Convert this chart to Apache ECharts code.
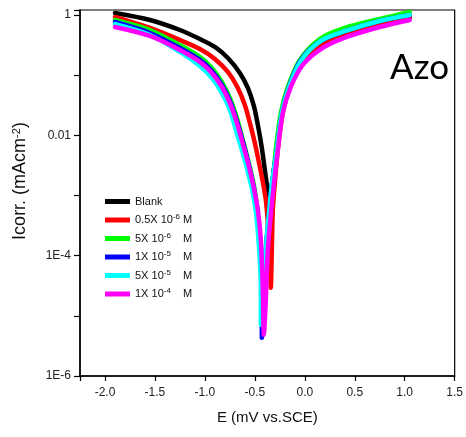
<!DOCTYPE html>
<html><head><meta charset="utf-8">
<script src="https://cdn.jsdelivr.net/npm/echarts@6/dist/echarts.min.js"></script>
<style>html,body{margin:0;padding:0;background:#fff}#c{width:466px;height:437px}</style>
</head><body><div id="c"></div>
<script>
// ---- data (E in V vs SCE, I in mA cm^-2) ----
const seriesNames = ['Blank', '0.5X 10-6 M', '5X 10-6 M', '1X 10-5 M', '5X 10-5 M', '1X 10-4 M'];
const seriesColors = ['#000000', '#ff0000', '#00ff00', '#0000ff', '#00ffff', '#ff00ff'];

const blankE = [-1.90, -1.55, -1.25, -1.05, -0.90, -0.77, -0.65, -0.57, -0.51, -0.47, -0.43, -0.40, -0.37, -0.35,
                -0.33, -0.31, -0.28, -0.23, -0.16, -0.04, 0.16, 0.41, 0.75, 1.05];
const blankI = [1.079, 0.826, 0.563, 0.399, 0.294, 0.193, 0.109, 0.0613, 0.0308, 0.0149, 0.00618, 0.00266, 0.00115, 0.000577,
                0.00124, 0.00266, 0.00572, 0.0236, 0.0637, 0.172, 0.343, 0.502, 0.709, 0.892];

const redE = [-1.90, -1.55, -1.25, -1.05, -0.90, -0.77, -0.67, -0.60, -0.55, -0.50, -0.46, -0.42, -0.39, -0.37, -0.35, -0.34,
              -0.33, -0.32, -0.30, -0.27, -0.22, -0.15, -0.03, 0.17, 0.41, 0.75, 1.05];
const redI = [0.926, 0.608, 0.384, 0.272, 0.186, 0.113, 0.0613, 0.0320, 0.0161, 0.00748, 0.00361, 0.00168, 0.000845, 0.000364, 0.000125, 0.0000292,
              0.000125, 0.000577, 0.00162, 0.00572, 0.0236, 0.0637, 0.166, 0.330, 0.484, 0.709, 0.926];

const greenE = [-1.90, -1.55, -1.25, -1.05, -0.93, -0.83, -0.75, -0.68, -0.62, -0.56, -0.51, -0.48, -0.45, -0.43, -0.42,
                -0.41, -0.38, -0.35, -0.32, -0.29, -0.24, -0.17, -0.05, 0.15, 0.40, 0.75, 1.05];
const greenI = [0.826, 0.563, 0.317, 0.201, 0.132, 0.0771, 0.0418, 0.0195, 0.00839, 0.00348, 0.00150, 0.000698, 0.000183, 0.0000396, 0.0000126,
                0.000027, 0.000125, 0.000476, 0.00168, 0.00572, 0.0236, 0.0637, 0.179, 0.399, 0.608, 0.858, 1.121];

const blueE = [-1.90, -1.55, -1.25, -1.05, -0.93, -0.83, -0.75, -0.68, -0.62, -0.56, -0.51, -0.48, -0.45, -0.43, -0.43,
               -0.41, -0.39, -0.36, -0.33, -0.28, -0.23, -0.16, -0.04, 0.16, 0.41, 0.75, 1.05];
const blueI = [0.765, 0.502, 0.283, 0.179, 0.1174, 0.0687, 0.0373, 0.0173, 0.00777, 0.00322, 0.00134, 0.000646, 0.000183, 0.000027, 0.00000431,
               0.0000185, 0.000125, 0.000476, 0.00150, 0.00572, 0.0236, 0.0637, 0.179, 0.370, 0.542, 0.795, 1.0];

const cyanE = [-1.90, -1.55, -1.25, -1.05, -0.93, -0.83, -0.75, -0.69, -0.63, -0.57, -0.52, -0.49, -0.46, -0.44, -0.44,
               -0.42, -0.39, -0.36, -0.33, -0.28, -0.23, -0.16, -0.04, 0.16, 0.41, 0.75, 1.05];
const cyanI = [0.709, 0.465, 0.243, 0.142, 0.0899, 0.0506, 0.0264, 0.0123, 0.00572, 0.00247, 0.00110, 0.000534, 0.000151, 0.000027, 0.00000708,
               0.0000185, 0.000125, 0.000476, 0.00150, 0.00572, 0.0236, 0.0613, 0.172, 0.370, 0.542, 0.795, 1.0];

const magentaE = [-1.90, -1.55, -1.25, -1.05, -0.93, -0.83, -0.75, -0.68, -0.62, -0.56, -0.51, -0.47, -0.44, -0.42, -0.41,
                  -0.39, -0.37, -0.34, -0.31, -0.27, -0.22, -0.14, -0.02, 0.18, 0.42, 0.75, 1.05];
const magentaI = [0.632, 0.448, 0.262, 0.166, 0.109, 0.0637, 0.0345, 0.0161, 0.00720, 0.00310, 0.00134, 0.000577, 0.000183, 0.000027, 0.00000483,
                  0.0000185, 0.000125, 0.000476, 0.00150, 0.00572, 0.0236, 0.0637, 0.148, 0.283, 0.431, 0.632, 0.826];

const xTicks = [-2.0, -1.5, -1.0, -0.5, 0.0, 0.5, 1.0, 1.5];
const yTickLabels = {'0': '1', '-2': '0.01', '-4': '1E-4', '-6': '1E-6'};

// ---- build ----
const allE = [blankE, redE, greenE, blueE, cyanE, magentaE];
const allI = [blankI, redI, greenI, blueI, cyanI, magentaI];
const zip = (a, b) => a.map((v, i) => [v, b[i]]);

const legendLabel = {
  'Blank': 'Blank',
  '0.5X 10-6 M': '0.5X 10{s|-6} M',
  '5X 10-6 M': '5X 10{s|-6}    M',
  '1X 10-5 M': '1X 10{s|-5}    M',
  '5X 10-5 M': '5X 10{s|-5}    M',
  '1X 10-4 M': '1X 10{s|-4}    M'
};

const font = 'Liberation Sans, Arial, sans-serif';
const chart = echarts.init(document.getElementById('c'), null, {renderer: 'canvas'});
chart.setOption({
  animation: false,
  backgroundColor: '#fff',
  grid: {left: 80, top: 10, right: 11, bottom: 61, show: true, borderColor: '#000', borderWidth: 1.2, backgroundColor: 'transparent'},
  legend: {
    orient: 'vertical', left: 100, top: 191,
    itemWidth: 25, itemHeight: 5, itemGap: 6,
    icon: 'rect',
    data: seriesNames,
    formatter: n => legendLabel[n],
    textStyle: {fontFamily: font, fontSize: 11, color: '#111',
      rich: {s: {fontFamily: font, fontSize: 8, color: '#111', padding: [0, 0, 6, 0]}}}
  },
  xAxis: {
    type: 'value', min: -2.25, max: 1.5, minInterval: 0.5, maxInterval: 0.5, splitNumber: 7,
    name: 'E (mV vs.SCE)', nameLocation: 'middle', nameGap: 34,
    nameTextStyle: {fontFamily: font, fontSize: 15, color: '#111'},
    axisLine: {onZero: false, lineStyle: {color: '#000', width: 1.5}},
    axisTick: {length: 5, lineStyle: {color: '#000', width: 1.2}},
    axisLabel: {fontFamily: font, fontSize: 12, color: '#222', margin: 11,
      showMinLabel: true, showMaxLabel: true,
      formatter: v => xTicks.some(t => Math.abs(t - v) < 1e-6) ? v.toFixed(1) : ''},
    splitLine: {show: false}
  },
  yAxis: {
    type: 'log', logBase: 10, min: 1e-6, max: 1.21,
    name: 'Icorr. (mAcm{s|-2})', nameLocation: 'middle', nameGap: 50, nameRotate: 90,
    nameTextStyle: {fontFamily: font, fontSize: 18, color: '#111', padding: [0, 0, 0, 24],
      rich: {s: {fontFamily: font, fontSize: 11, color: '#111', padding: [0, 0, 8, 0]}}},
    axisLine: {onZero: false, lineStyle: {color: '#000', width: 1.5}},
    axisTick: {length: 6, lineStyle: {color: '#000', width: 1.2}},
    axisLabel: {fontFamily: font, fontSize: 12, color: '#222', margin: 9,
      formatter: v => { const e = Math.round(Math.log10(v)); return (Math.abs(Math.log10(v) - e) < 1e-3 && yTickLabels[String(e)]) || ''; }},
    splitLine: {show: false}
  },
  graphic: [{type: 'text', left: 390, top: 50, style: {text: 'Azo', fontFamily: 'Lato', fontSize: 35, fill: '#000'}}],
  series: seriesNames.map((n, k) => ({
    name: n, type: 'line', data: zip(allE[k], allI[k]),
    showSymbol: false, smooth: 0.3, color: seriesColors[k],
    lineStyle: {width: 4.5, color: seriesColors[k], cap: 'round', join: 'round'}
  }))
});
</script></body></html>
